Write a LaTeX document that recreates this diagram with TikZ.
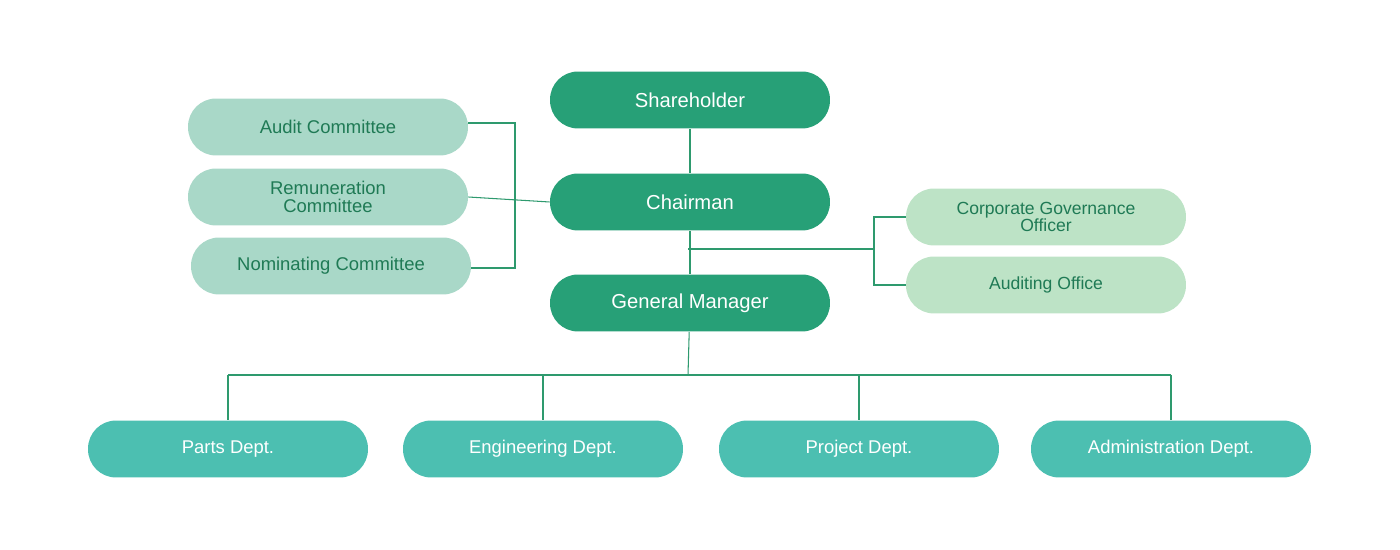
\documentclass[tikz,border=0pt]{standalone}
\usepackage{fontspec}
\setmainfont{Liberation Sans}
\begin{document}
\definecolor{dark}{HTML}{27A077}
\definecolor{comm}{HTML}{A9D8C8}
\definecolor{gov}{HTML}{BDE3C6}
\definecolor{dept}{HTML}{4CBFB1}
\definecolor{ctxt}{HTML}{1F7A55}
\definecolor{ln}{HTML}{2E9A6E}
\begin{tikzpicture}[x=0.02cm,y=-0.02cm,
 box/.style={rounded corners=0.56cm,minimum width=5.6cm,minimum height=1.14cm,align=center,inner sep=0pt,font=\fontsize{11.5}{11}\selectfont},
 top/.style={box,fill=dark,text=white},
 cmt/.style={box,fill=comm,text=ctxt,font=\fontsize{10.5}{10}\selectfont},
 gv/.style={box,fill=gov,text=ctxt,font=\fontsize{10}{9.5}\selectfont},
 dp/.style={box,fill=dept,text=white,font=\fontsize{10.5}{10}\selectfont},
 l/.style={draw=ln,line width=0.6pt}]
\useasboundingbox (0,0) rectangle (1400,550);
\node[top] (sh) at (690,100) {Shareholder};
\node[top] (ch) at (690,202) {Chairman};
\node[top] (gm) at (690,303) {General Manager};
\node[cmt] (au) at (328,127) {Audit Committee};
\node[cmt] (re) at (328,197) {Remuneration\\Committee};
\node[cmt] (no) at (331,266) {Nominating Committee};
\node[gv] (cg) at (1046,217) {Corporate Governance\\Officer};
\node[gv] (ao) at (1046,285) {Auditing Office};
\node[dp] (pa) at (228,449) {Parts Dept.};
\node[dp] (en) at (543,449) {Engineering Dept.};
\node[dp] (pr) at (859,449) {Project Dept.};
\node[dp] (ad) at (1171,449) {Administration Dept.};
\coordinate (lt) at (515,123); \coordinate (lb) at (515,268);
\coordinate (rm) at (688,249); \coordinate (rj) at (874,249);
\coordinate (bm) at (688,375);
\draw[l] (sh) -- (ch);
\draw[l] (ch) -- (gm);
\draw[l] (au.east |- lt) -- (lt) -- (lb) -- (no.east |- lb);
\draw[l] (re.east) -- (ch.west);
\draw[l] (rm) -- (rj);
\draw[l] (cg.west) -| (rj) |- (ao.west);
\draw[l] (gm) -- (bm);
\draw[l] (pa.north |- bm) -- (ad.north |- bm);
\foreach \n in {pa,en,pr,ad} \draw[l] (\n.north |- bm) -- (\n.north);
\end{tikzpicture}
\end{document}
